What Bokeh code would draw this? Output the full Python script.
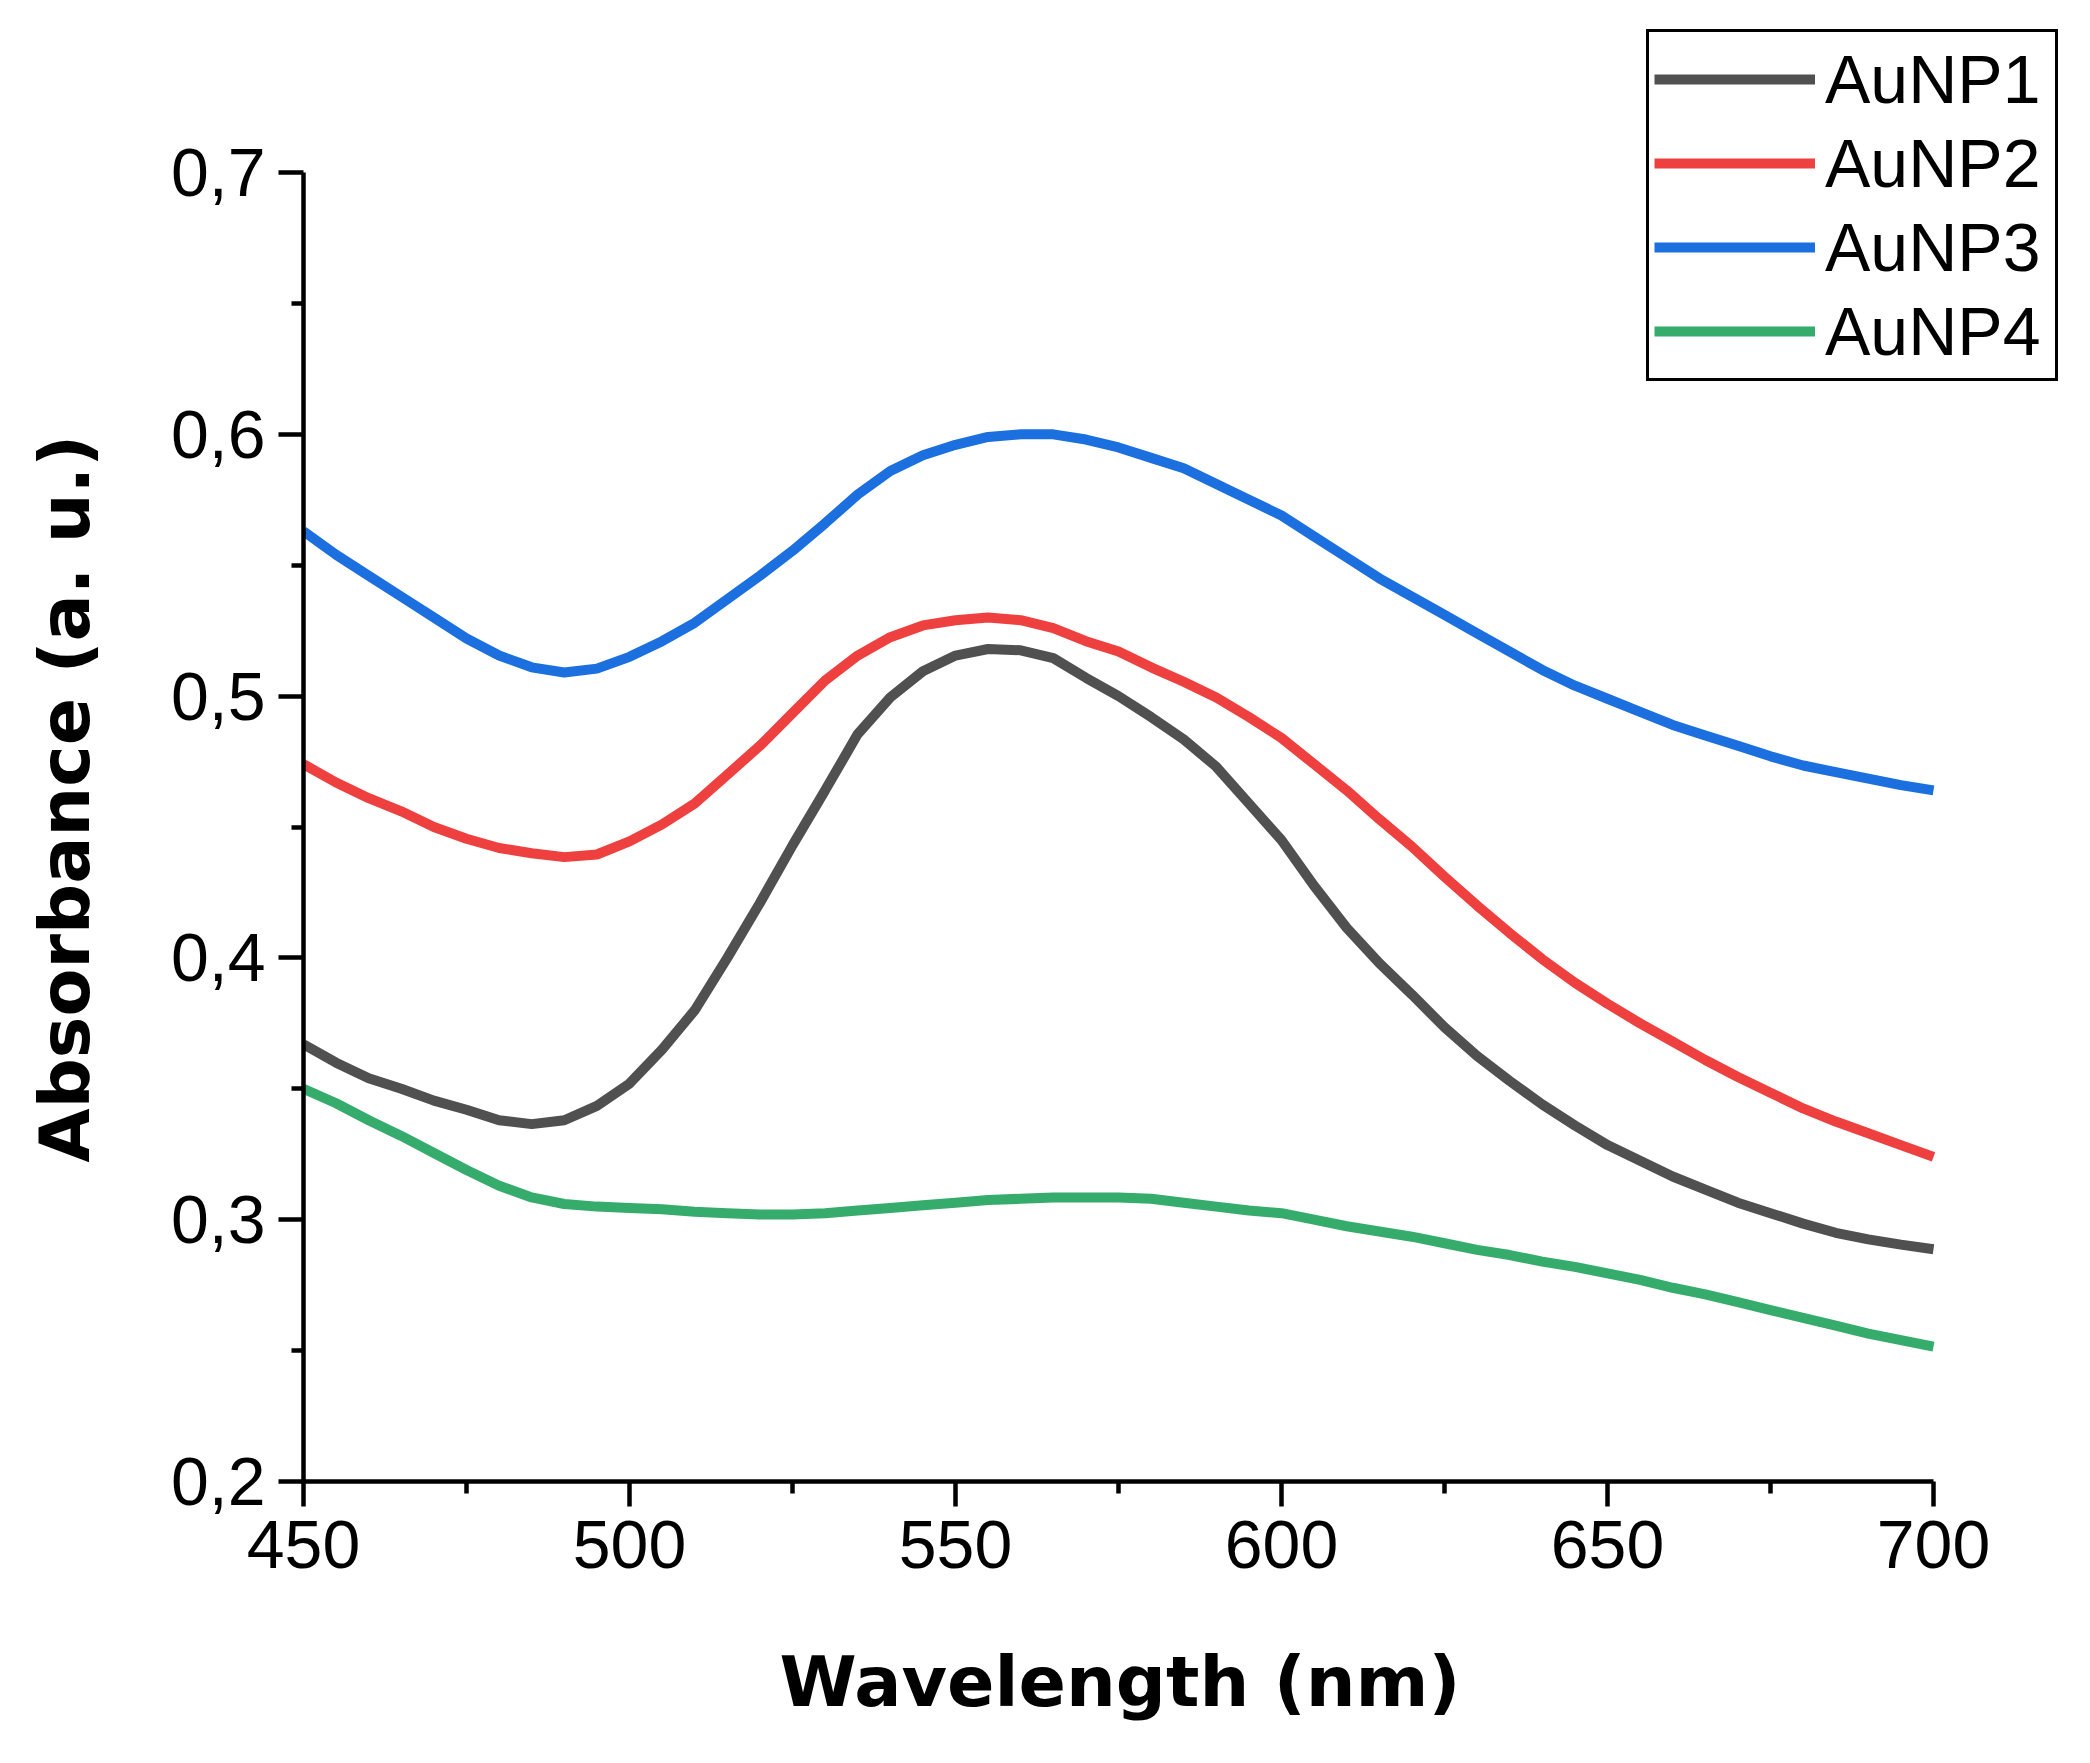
# AuNP の UV-Vis 吸収スペクトル (450-700 nm) を bokeh で描く

import numpy as np
from bokeh.embed import file_html
from bokeh.models import ColumnDataSource, FixedTicker, Legend, LegendItem, Range1d, Title
from bokeh.plotting import figure
from bokeh.resources import INLINE

# %%
# 図から読み取った値 (5 nm おき)
wavelength = np.arange(450, 701, 5)

AuNP1 = [0.367, 0.360, 0.354, 0.350, 0.3455, 0.342, 0.338, 0.3365, 0.338, 0.3435,
         0.352, 0.365, 0.380, 0.400, 0.421, 0.443, 0.464, 0.4855, 0.4995, 0.5095,
         0.5155, 0.518, 0.5175, 0.5145, 0.507, 0.500, 0.492, 0.4835, 0.473, 0.459,
         0.445, 0.4275, 0.4115, 0.398, 0.386, 0.3735, 0.3625, 0.353, 0.344, 0.336,
         0.3285, 0.3225, 0.3165, 0.3115, 0.3065, 0.3025, 0.2985, 0.295, 0.2925, 0.2905,
         0.2887]

AuNP2 = [0.474, 0.467, 0.461, 0.456, 0.450, 0.4455, 0.442, 0.440, 0.4385, 0.4395,
         0.4445, 0.451, 0.459, 0.470, 0.481, 0.4935, 0.506, 0.5155, 0.5225, 0.527,
         0.529, 0.530, 0.529, 0.526, 0.521, 0.517, 0.511, 0.5055, 0.4995, 0.492,
         0.484, 0.474, 0.464, 0.453, 0.4425, 0.431, 0.420, 0.4095, 0.3995, 0.3905,
         0.3825, 0.375, 0.368, 0.361, 0.3545, 0.3485, 0.3425, 0.3375, 0.333, 0.3285,
         0.324]

AuNP3 = [0.563, 0.554, 0.546, 0.538, 0.530, 0.522, 0.5155, 0.511, 0.509, 0.5105,
         0.515, 0.521, 0.528, 0.537, 0.546, 0.5555, 0.566, 0.577, 0.586, 0.592,
         0.596, 0.599, 0.600, 0.600, 0.598, 0.595, 0.591, 0.587, 0.581, 0.575,
         0.569, 0.561, 0.553, 0.545, 0.538, 0.531, 0.524, 0.517, 0.510, 0.504,
         0.499, 0.494, 0.489, 0.485, 0.481, 0.477, 0.4735, 0.471, 0.4685, 0.466,
         0.464]

AuNP4 = [0.350, 0.3445, 0.338, 0.332, 0.3255, 0.319, 0.313, 0.3085, 0.306, 0.305,
         0.3045, 0.304, 0.303, 0.3025, 0.302, 0.302, 0.3025, 0.3035, 0.3045, 0.3055,
         0.3065, 0.3075, 0.308, 0.3085, 0.3085, 0.3085, 0.308, 0.3065, 0.305, 0.3035,
         0.3025, 0.300, 0.2975, 0.2955, 0.2935, 0.291, 0.2885, 0.2865, 0.284, 0.282,
         0.2795, 0.277, 0.274, 0.2715, 0.2685, 0.2655, 0.2625, 0.2595, 0.2565, 0.254,
         0.2515]

# 軸の目盛り
x_ticks = [450, 500, 550, 600, 650, 700]
x_minor_ticks = [475, 525, 575, 625, 675]
y_ticks = [0.2, 0.3, 0.4, 0.5, 0.6, 0.7]
y_minor_ticks = [0.25, 0.35, 0.45, 0.55, 0.65]
y_tick_labels = ["0,2", "0,3", "0,4", "0,5", "0,6", "0,7"]

names = ["AuNP1", "AuNP2", "AuNP3", "AuNP4"]
colors = ["#505050", "#EF4040", "#1B6FDE", "#35AC6B"]

# %%
source = ColumnDataSource(data=dict(x=wavelength, AuNP1=AuNP1, AuNP2=AuNP2, AuNP3=AuNP3, AuNP4=AuNP4))

# 凡例が枠の外にはみ出すので、描画枠は軸より広めにとって軸は bounds で 450-700, 0.2-0.7 に切る
x_range = Range1d(start=450, end=720.55)
y_range = Range1d(start=0.2, end=0.7596)
p = figure(width=2074, height=1747, x_range=x_range, y_range=y_range,
           output_backend="svg", toolbar_location=None,
           min_border_left=303, min_border_right=7, min_border_top=16, min_border_bottom=266)

p.outline_line_color = None
p.xgrid.visible = False
p.ygrid.visible = False
p.background_fill_color = "white"
p.border_fill_color = "white"

renderers = []
for name, color in zip(names, colors):
    r = p.line("x", name, source=source, line_width=10, color=color)
    renderers.append(r)

# 軸の見た目
p.xaxis.bounds = (450, 700)
p.yaxis.bounds = (0.2, 0.7)
p.xaxis.ticker = FixedTicker(ticks=x_ticks, minor_ticks=x_minor_ticks)
p.yaxis.ticker = FixedTicker(ticks=y_ticks, minor_ticks=y_minor_ticks)
p.yaxis.major_label_overrides = dict(zip(y_ticks, y_tick_labels))

for ax in [p.xaxis, p.yaxis]:
    ax.axis_line_width = 4.5
    ax.axis_line_color = "black"
    ax.major_tick_line_width = 4.5
    ax.minor_tick_line_width = 4.5
    ax.major_tick_line_color = "black"
    ax.minor_tick_line_color = "black"
    ax.major_tick_in = 0
    ax.major_tick_out = 25
    ax.minor_tick_in = 0
    ax.minor_tick_out = 12
    ax.major_label_text_font = "Liberation Sans"
    ax.major_label_text_font_size = "68px"
    ax.major_label_text_color = "black"

p.xaxis.major_label_standoff = 14
p.yaxis.major_label_standoff = 13

# 軸ラベルは枠ではなく 450-700 / 0.2-0.7 の中央に来るよう Title で置く
# 軸と Title の間は空白の Title で間をあける
p.add_layout(Title(text=" ", text_font_size="10px", standoff=45), "below")
p.add_layout(Title(text=" ", text_font_size="10px", standoff=39), "left")

x_title = Title(text="Wavelength (nm)", align="left", offset=476, standoff=20,
                text_font="DejaVu Sans", text_font_style="bold", text_font_size="70px", text_color="black")
y_title = Title(text="Absorbance (a. u.)", align="left", offset=319, standoff=20,
                text_font="DejaVu Sans", text_font_style="bold", text_font_size="70px", text_color="black")
p.add_layout(x_title, "below")
p.add_layout(y_title, "left")

# 凡例 (右上)
items = [LegendItem(label=n, renderers=[r]) for n, r in zip(names, renderers)]
legend = Legend(items=items, location=(1343, 1100))
legend.glyph_width = 161
legend.glyph_height = 84
legend.label_height = 84
legend.label_width = 225
legend.label_standoff = 10
legend.padding = 5
legend.spacing = 0
legend.margin = 0
legend.border_line_color = "black"
legend.border_line_alpha = 1
legend.border_line_width = 3
legend.background_fill_color = "white"
legend.background_fill_alpha = 1
legend.label_text_font = "Liberation Sans"
legend.label_text_font_size = "68px"
legend.label_text_color = "black"
p.add_layout(legend)

open("out.html", "w").write(file_html(p, INLINE))
